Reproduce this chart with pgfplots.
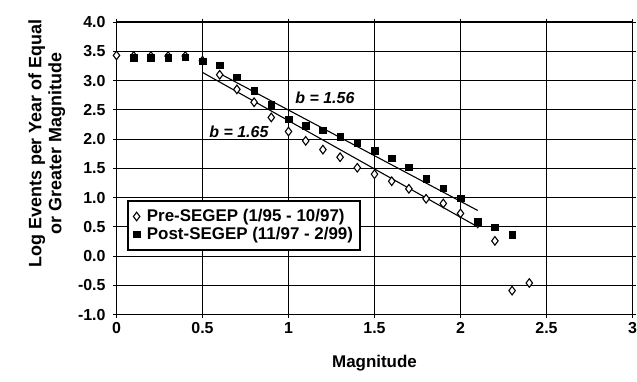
\documentclass[border=0pt]{standalone}
\usepackage{fontspec}
\setmainfont{Liberation Sans}
\usepackage{pgfplots}
\pgfplotsset{compat=1.18}
\begin{document}
\begin{tikzpicture}
\begin{axis}[
  at={(0,0)}, anchor=south west,
  scale only axis,
  width=516bp, height=292.5bp,
  xmin=0, xmax=3, ymin=-1, ymax=4,
  xtick={0,0.5,1,1.5,2,2.5,3},
  ytick={-1,-0.5,0,0.5,1,1.5,2,2.5,3,3.5,4},
  grid=major,
  major grid style={black, line width=0.75pt},
  axis line style={black, line width=1.6pt},
  tick style={black, line width=1pt},
  tick align=center,
  major tick length=7bp,
  clip=false,
  /pgf/number format/assume math mode=true,
  tick label style={font=\fontsize{16}{16}\selectfont\bfseries},
  y tick label style={xshift=-4bp, /pgf/number format/.cd, fixed, fixed zerofill, precision=1},
  x tick label style={yshift=-1bp},
  xlabel={Magnitude},
  xlabel style={font=\fontsize{17}{17}\selectfont\bfseries, at={(axis description cs:0.5,-0.165)}, anchor=center},
  ylabel={Log Events per Year of Equal\\or Greater Magnitude},
  ylabel style={font=\fontsize{18}{20}\selectfont\bfseries, align=center, at={(axis description cs:-0.135,0.585)}, anchor=center},
  legend style={at={(axis description cs:0.021,0.393)}, anchor=north west,
    draw=black, line width=2pt, fill=white,
    font=\fontsize{17}{17}\selectfont\bfseries,
    inner xsep=5bp, inner ysep=7bp, cells={anchor=west},
    /tikz/every odd column/.append style={column sep=5bp}},
  legend cell align=left,
]
\addplot[only marks, mark=diamond*, mark size=4.3bp, mark options={fill=white, draw=black, line width=1.1pt}] table {
x y
0.0 3.43
0.1 3.42
0.2 3.42
0.3 3.42
0.4 3.42
0.5 3.34
0.6 3.10
0.7 2.85
0.8 2.63
0.9 2.37
1.0 2.13
1.1 1.97
1.2 1.82
1.3 1.69
1.4 1.51
1.5 1.40
1.6 1.28
1.7 1.15
1.8 0.98
1.9 0.90
2.0 0.73
2.1 0.56
2.2 0.26
2.3 -0.59
2.4 -0.46
};
\addlegendentry{Pre-SEGEP (1/95 - 10/97)}
\addplot[only marks, mark=square*, mark size=3.3bp, mark options={fill=black, draw=black, line width=0.5pt}] table {
x y
0.1 3.39
0.2 3.39
0.3 3.39
0.4 3.40
0.5 3.33
0.6 3.26
0.7 3.06
0.8 2.83
0.9 2.59
1.0 2.34
1.1 2.23
1.2 2.15
1.3 2.04
1.4 1.93
1.5 1.80
1.6 1.67
1.7 1.52
1.8 1.32
1.9 1.16
2.0 0.99
2.1 0.59
2.2 0.49
2.3 0.36
};
\addlegendentry{Post-SEGEP (11/97 - 2/99)}
\addplot[black, line width=1.1pt, forget plot] coordinates {(0.6,3.12) (2.1,0.78)};
\addplot[black, line width=1.1pt, forget plot] coordinates {(0.5,3.14) (2.1,0.50)};
\node[anchor=west, font=\fontsize{16}{16}\selectfont\bfseries\itshape] at (axis cs:1.02,2.71) {b = 1.56};
\node[anchor=west, font=\fontsize{16}{16}\selectfont\bfseries\itshape] at (axis cs:0.52,2.12) {b = 1.65};
\end{axis}
\pgfresetboundingbox
\path[use as bounding box] (-116.5bp,-67.4bp) rectangle (520.5bp,314.6bp);
\end{tikzpicture}
\end{document}
